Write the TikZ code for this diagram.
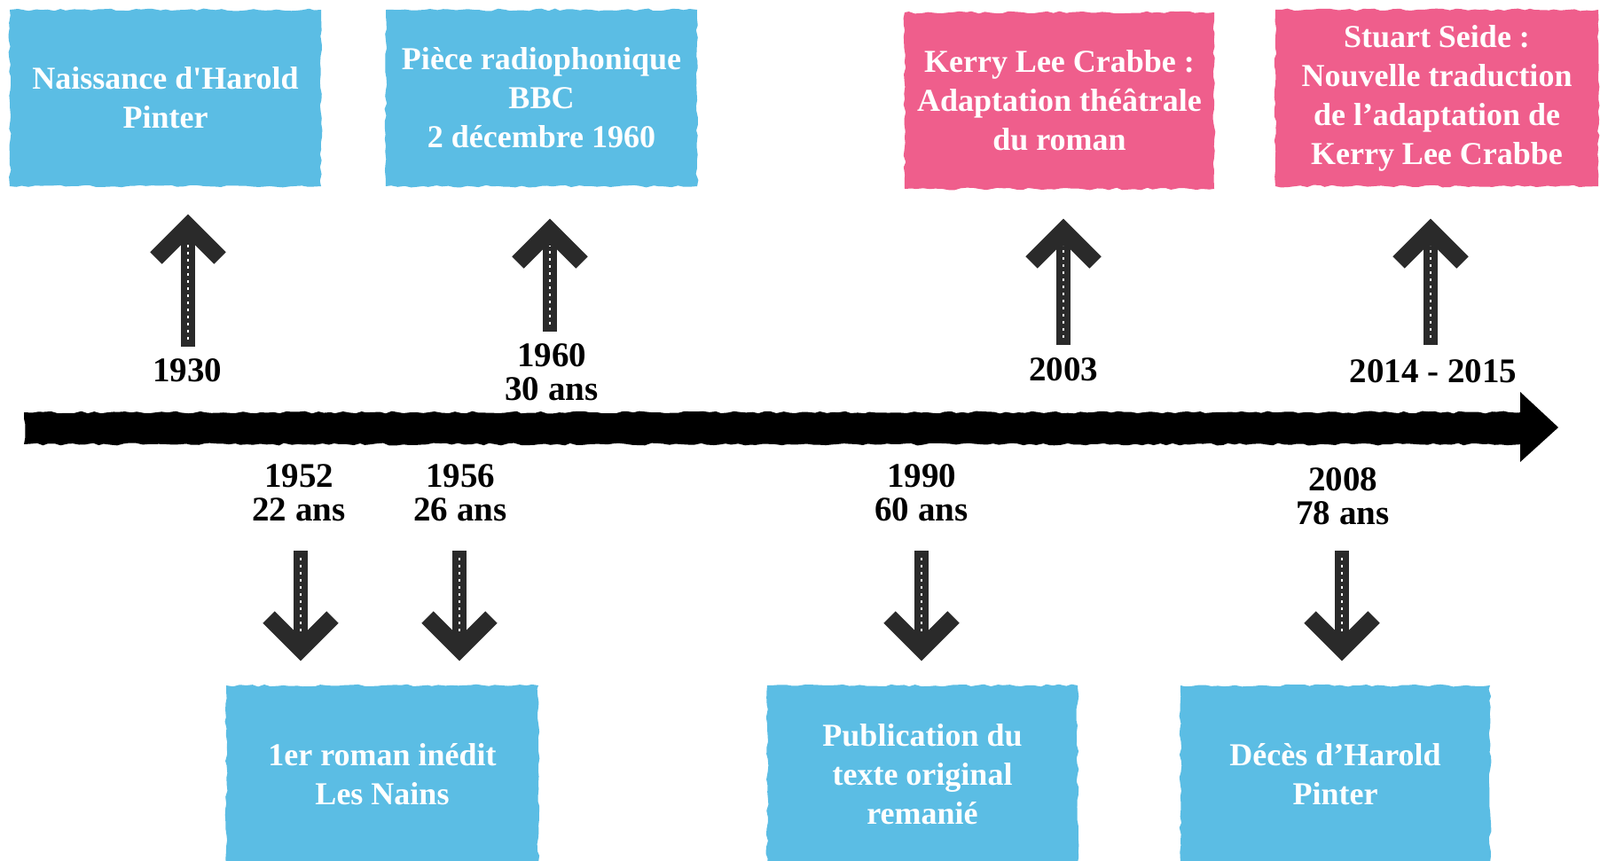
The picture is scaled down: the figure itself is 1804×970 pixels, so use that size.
\documentclass[tikz,border=0pt]{standalone}
\usepackage{fontspec}
\setmainfont{Liberation Serif}
\usetikzlibrary{decorations.pathmorphing}
\definecolor{skyblue}{HTML}{5BBDE4}
\definecolor{rosepink}{HTML}{EF5E8C}
\definecolor{inkgrey}{HTML}{2A2A2A}
\begin{document}
\begin{tikzpicture}[x=1pt,y=-1pt,
  rough/.style={decorate,decoration={random steps,segment length=7pt,amplitude=1.4pt}},
  eventbox/.style={rough,fill=#1,text=white,font=\fontsize{36}{44}\selectfont\bfseries,
    align=center,minimum height=199pt,inner sep=0pt,anchor=center},
  yearlabel/.style={font=\fontsize{39}{38}\selectfont\bfseries,align=center,inner sep=0pt,anchor=center},
  shaft/.style={inkgrey,line width=16pt},
  grain/.style={white,line width=2.5pt,dash pattern=on 3pt off 5pt},
  chevron/.style={inkgrey,line width=19pt,line join=miter,miter limit=4},
]
\useasboundingbox (0,0) rectangle (1804,970);
\fill[white] (0,0) rectangle (1804,970);

% timeline
\fill[black,rough] (27,465) rectangle (1716,501);
\fill[black] (1714,442) -- (1757,482) -- (1714,521) -- cycle;

% event boxes (top)
\node[eventbox=skyblue,minimum width=351pt] (b1930) at (186.5,110.5) {Naissance d\textquotesingle Harold\\Pinter};
\node[eventbox=skyblue,minimum width=351pt] (b1960) at (610.5,110.5) {Pièce radiophonique\\BBC\\2 décembre 1960};
\node[eventbox=rosepink,minimum width=349pt] (b2003) at (1194.5,113.5) {Kerry Lee Crabbe :\\Adaptation théâtrale\\du roman};
\node[eventbox=rosepink,minimum width=364pt] (b2014) at (1620,110.5) {Stuart Seide :\\Nouvelle traduction\\de l’adaptation de\\Kerry Lee Crabbe};
% event boxes (bottom)
\node[eventbox=skyblue,minimum width=352pt,minimum height=200pt] (b1952) at (431,873) {1er roman inédit\\Les Nains};
\node[eventbox=skyblue,minimum width=350pt,minimum height=200pt] (b1990) at (1040,873) {Publication du\\texte original\\remanié};
\node[eventbox=skyblue,minimum width=349pt,minimum height=200pt] (b2008) at (1505.5,873) {Décès d’Harold\\Pinter};

% year labels
\node[yearlabel] (y1930) at (211,418) {1930};
\node[yearlabel] (y1960) at (622,420) {1960\\30 ans};
\node[yearlabel] (y2003) at (1199,417) {2003};
\node[yearlabel] (y2014) at (1616,419) {2014 - 2015};
\node[yearlabel] (y1952) at (337,556) {1952\\22 ans};
\node[yearlabel] (y1956) at (519,556) {1956\\26 ans};
\node[yearlabel] (y1990) at (1039,556) {1990\\60 ans};
\node[yearlabel] (y2008) at (1514,560) {2008\\78 ans};

% arrow anchors: tail and tip
\coordinate (t1930) at (212,391); \coordinate (h1930) at (212,242);
\coordinate (t1960) at (620,374); \coordinate (h1960) at (620,247);
\coordinate (t2003) at (1199,389); \coordinate (h2003) at (1199,247);
\coordinate (t2014) at (1613,389); \coordinate (h2014) at (1613,247);
\coordinate (t1952) at (339,621); \coordinate (h1952) at (339,745);
\coordinate (t1956) at (518,621); \coordinate (h1956) at (518,745);
\coordinate (t1990) at (1039,621); \coordinate (h1990) at (1039,745);
\coordinate (t2008) at (1513,621); \coordinate (h2008) at (1513,745);

% up arrows (yshift is in page direction: positive = up)
\foreach \n in {1930,1960,2003,2014}{
  \draw[shaft] (t\n) -- ([yshift=-10pt]h\n);
  \draw[grain] ([yshift=8pt]t\n) -- ([yshift=-30pt]h\n);
  \draw[chevron] ([xshift=-36pt,yshift=-49pt]h\n) -- ([yshift=-13pt]h\n) -- ([xshift=36pt,yshift=-49pt]h\n);
}
% down arrows
\foreach \n in {1952,1956,1990,2008}{
  \draw[shaft] (t\n) -- ([yshift=10pt]h\n);
  \draw[grain] ([yshift=-8pt]t\n) -- ([yshift=30pt]h\n);
  \draw[chevron] ([xshift=-36pt,yshift=49pt]h\n) -- ([yshift=13pt]h\n) -- ([xshift=36pt,yshift=49pt]h\n);
}
\end{tikzpicture}
\end{document}
